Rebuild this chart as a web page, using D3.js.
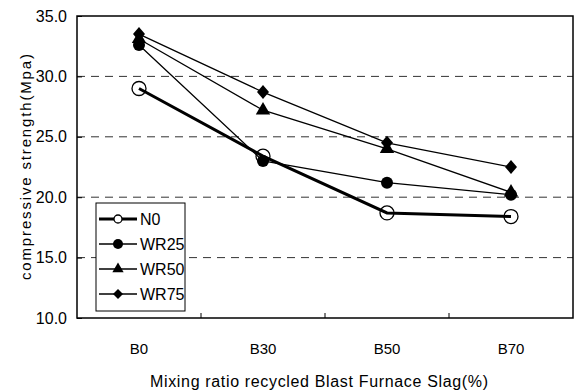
<!DOCTYPE html>
<html>
<head>
<meta charset="utf-8">
<script src="https://cdn.jsdelivr.net/npm/d3@7"></script>
<style>
  html, body { margin: 0; padding: 0; background: #fff; }
  svg { display: block; }
  text { font-family: "Liberation Sans", Arial, sans-serif; fill: #000; }
</style>
</head>
<body>
<svg id="chart" width="574" height="390"></svg>
<script>
// Mix designs along the x axis
const categories = ["B0", "B30", "B50", "B70"];
// Compressive strength (MPa) for each series
const seriesNames = ["N0", "WR25", "WR50", "WR75"];
const valuesN0   = [29.0, 23.4, 18.7, 18.4];
const valuesWR25 = [32.6, 23.0, 21.2, 20.2];
const valuesWR50 = [33.1, 27.2, 24.0, 20.4];
const valuesWR75 = [33.5, 28.7, 24.5, 22.5];
const yTicks = [10, 15, 20, 25, 30, 35];

const series = [
  { name: seriesNames[0], values: valuesN0,   symbol: "openCircle", width: 3 },
  { name: seriesNames[1], values: valuesWR25, symbol: "circle",     width: 1.3 },
  { name: seriesNames[2], values: valuesWR50, symbol: "triangle",   width: 1.3 },
  { name: seriesNames[3], values: valuesWR75, symbol: "diamond",    width: 1.3 }
];

const svg = d3.select("#chart");
const plot = { left: 77, right: 573, top: 16, bottom: 318 };

const x = d3.scaleBand().domain(categories).range([plot.left, plot.right]);
const y = d3.scaleLinear().domain([10, 35]).range([plot.bottom, plot.top]);

// Dashed horizontal gridlines
svg.append("g").selectAll("line")
  .data(yTicks.filter(t => t > 10 && t < 35))
  .join("line")
  .attr("x1", plot.left).attr("x2", plot.right)
  .attr("y1", d => y(d)).attr("y2", d => y(d))
  .attr("stroke", "#333").attr("stroke-width", 1)
  .attr("stroke-dasharray", "8,6");

// Y axis: tick labels on the left, short ticks inside
const yAxis = d3.axisLeft(y).tickValues(yTicks).tickFormat(d3.format(".1f")).tickSizeInner(-5).tickSizeOuter(0).tickPadding(10);
const gy = svg.append("g").attr("transform", `translate(${plot.left},0)`).call(yAxis);
gy.select(".domain").remove();
gy.selectAll("line").attr("stroke", "#000");
gy.selectAll("text").style("font-size", "16px").attr("fill", "#000").attr("font-family", null);

// X axis: labels centred in bands, ticks at band boundaries pointing up
svg.append("g").selectAll("line")
  .data(categories.slice(1))
  .join("line")
  .attr("x1", d => x(d)).attr("x2", d => x(d))
  .attr("y1", plot.bottom).attr("y2", plot.bottom - 5)
  .attr("stroke", "#000");
svg.append("g").selectAll("text")
  .data(categories)
  .join("text")
  .attr("x", d => x(d) + x.bandwidth() / 2)
  .attr("y", 354)
  .attr("text-anchor", "middle")
  .style("font-size", "15px")
  .text(d => d);

// Plot frame
svg.append("rect")
  .attr("x", plot.left).attr("y", plot.top)
  .attr("width", plot.right - plot.left).attr("height", plot.bottom - plot.top)
  .attr("fill", "none").attr("stroke", "#000").attr("stroke-width", 1.5);

// Axis titles
svg.append("text")
  .attr("x", 150).attr("y", 387)
  .attr("textLength", 338).attr("lengthAdjust", "spacing")
  .style("font-size", "16px")
  .text("Mixing ratio recycled Blast Furnace Slag(%)");
svg.append("text")
  .attr("transform", "translate(31,280) rotate(-90)")
  .attr("textLength", 226).attr("lengthAdjust", "spacing")
  .style("font-size", "15px")
  .text("compressive strength(Mpa)");

const cx = c => x(c) + x.bandwidth() / 2;

function drawSymbol(g, kind, px, py) {
  if (kind === "openCircle") {
    g.append("circle").attr("cx", px).attr("cy", py).attr("r", 7)
      .attr("fill", "none").attr("stroke", "#000").attr("stroke-width", 1.3);
  } else if (kind === "circle") {
    g.append("circle").attr("cx", px).attr("cy", py).attr("r", 6).attr("fill", "#000");
  } else if (kind === "triangle") {
    g.append("path").attr("transform", `translate(${px},${py})`)
      .attr("d", d3.symbol(d3.symbolTriangle, 90)()).attr("fill", "#000");
  } else if (kind === "diamond") {
    g.append("path").attr("transform", `translate(${px},${py})`)
      .attr("d", "M0,-7L6,0L0,7L-6,0Z").attr("fill", "#000");
  }
}

// Series lines and markers
const line = d3.line().x((d, i) => cx(categories[i])).y(d => y(d));
const seriesG = svg.append("g");
series.slice().reverse().forEach(s => {
  seriesG.append("path").datum(s.values)
    .attr("d", line).attr("fill", "none")
    .attr("stroke", "#000").attr("stroke-width", s.width);
});
series.slice().reverse().forEach(s => {
  s.values.forEach((v, i) => drawSymbol(seriesG, s.symbol, cx(categories[i]), y(v)));
});

// Legend
const leg = svg.append("g");
leg.append("rect").attr("x", 96).attr("y", 203).attr("width", 89).attr("height", 108)
  .attr("fill", "#fff").attr("stroke", "#000").attr("stroke-width", 1);
series.forEach((s, i) => {
  const ly = 219 + i * 25;
  leg.append("line").attr("x1", 99).attr("x2", 137).attr("y1", ly).attr("y2", ly)
    .attr("stroke", "#000").attr("stroke-width", s.width);
  if (s.symbol === "openCircle") {
    leg.append("circle").attr("cx", 118).attr("cy", ly).attr("r", 4)
      .attr("fill", "#fff").attr("stroke", "#000").attr("stroke-width", 1.3);
  } else if (s.symbol === "circle") {
    leg.append("circle").attr("cx", 118).attr("cy", ly).attr("r", 5).attr("fill", "#000");
  } else if (s.symbol === "triangle") {
    leg.append("path").attr("transform", `translate(118,${ly})`)
      .attr("d", d3.symbol(d3.symbolTriangle, 55)()).attr("fill", "#000");
  } else {
    leg.append("path").attr("transform", `translate(118,${ly})`)
      .attr("d", "M0,-5L5,0L0,5L-5,0Z").attr("fill", "#000");
  }
  leg.append("text").attr("x", 140).attr("y", ly + 6)
    .style("font-size", "16px").text(s.name);
});
</script>
</body>
</html>
